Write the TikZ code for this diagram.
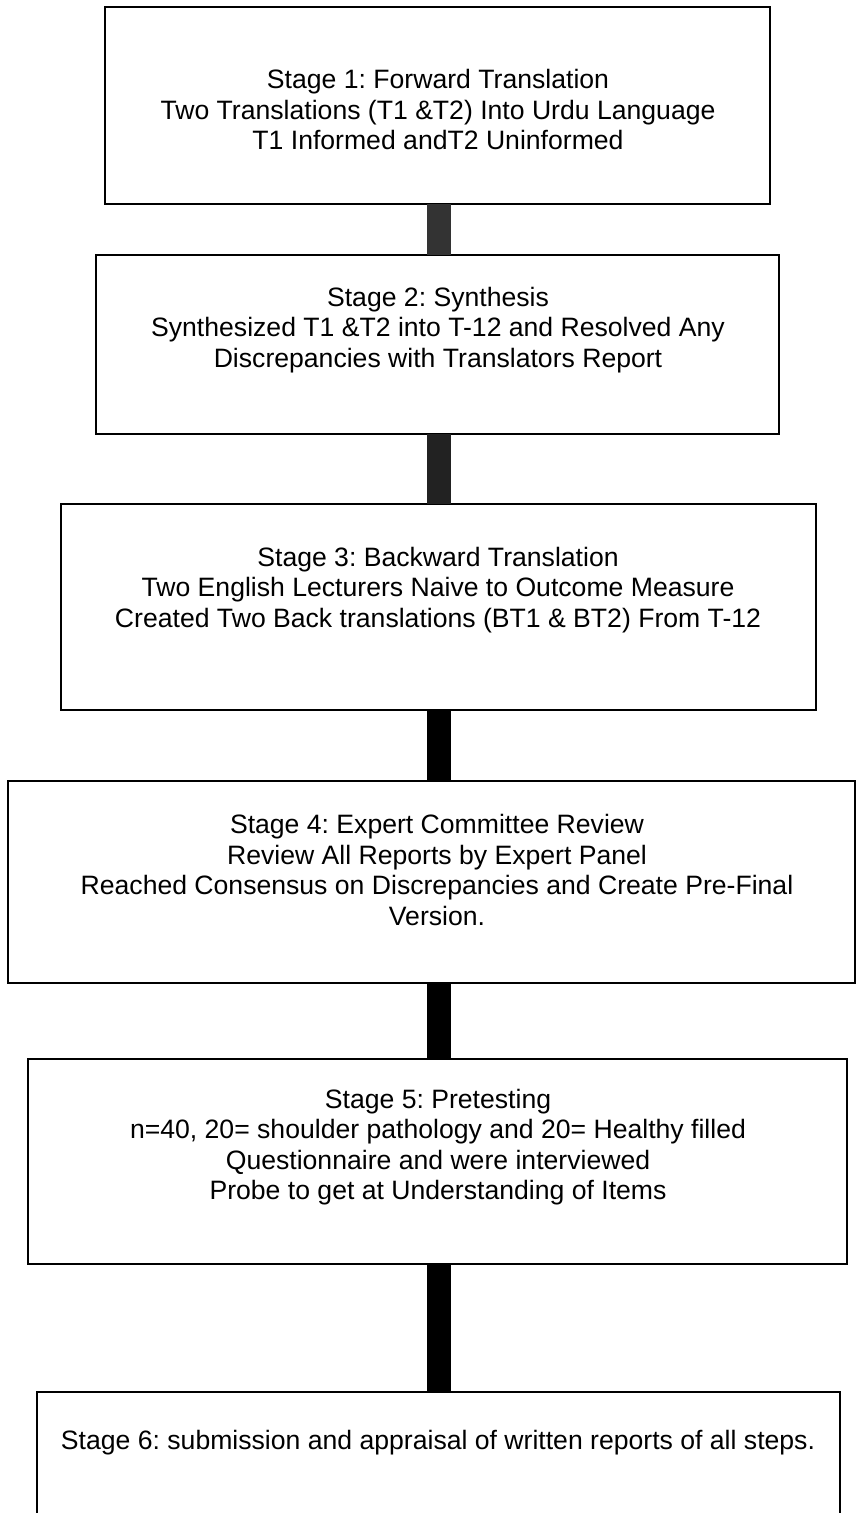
\documentclass[tikz,border=0pt]{standalone}
\usepackage{fontspec}
\setmainfont{Liberation Sans}
\frenchspacing
\definecolor{barA}{HTML}{333333}
\definecolor{barB}{HTML}{222222}
\begin{document}
\begin{tikzpicture}[x=1pt,y=-1pt,
  stagebox/.style={draw=black, line width=2pt, fill=white, inner sep=0pt, outer sep=0pt},
  lbl/.style={align=center, font=\fontsize{26.6}{30.5}\selectfont, inner sep=0pt},
  bar/.style={line width=24pt}]
\useasboundingbox (0,0) rectangle (856,1513);
\coordinate (bx) at (439,0);
% boxes
\node[stagebox, minimum width=665pt, minimum height=197pt] (b1) at (437.5,105.5) {};
\node[stagebox, minimum width=683pt, minimum height=179pt] (b2) at (437.5,344.5) {};
\node[stagebox, minimum width=755pt, minimum height=206pt] (b3) at (438.5,607) {};
\node[stagebox, minimum width=846.5pt, minimum height=202pt] (b4) at (431.25,882) {};
\node[stagebox, minimum width=819pt, minimum height=205pt] (b5) at (437.5,1161.5) {};
\node[stagebox, minimum width=803pt, minimum height=148pt] (b6) at (438.5,1466) {};
% connectors
\draw[bar, barA] (b1.south -| bx) -- (b2.north -| bx);
\draw[bar, barB] (b2.south -| bx) -- (b3.north -| bx);
\draw[bar, black] (b3.south -| bx) -- (b4.north -| bx);
\draw[bar, black] (b4.south -| bx) -- (b5.north -| bx);
\draw[bar, black] (b5.south -| bx) -- (b6.north -| bx);
% texts
\node[lbl] (t1) at (438,109.5) {Stage 1: Forward Translation\\Two Translations (T1 \&T2) Into Urdu Language\\T1 Informed andT2 Uninformed};
\node[lbl] (t2) at (438,330) {Stage 2: Synthesis\\Synthesized T1 \&T2 into T-12 and Resolved Any\\Discrepancies with Translators Report};
\node[lbl] (t3) at (438,590) {Stage 3: Backward Translation\\Two English Lecturers Naive to Outcome Measure\\Created Two Back translations (BT1 \& BT2) From T-12};
\node[lbl] (t4) at (437,870) {Stage 4: Expert Committee Review\\Review All Reports by Expert Panel\\Reached Consensus on Discrepancies and Create Pre-Final\\Version.};
\node[lbl] (t5) at (438,1147) {Stage 5: Pretesting\\n=40, 20= shoulder pathology and 20= Healthy filled\\Questionnaire and were interviewed\\Probe to get at Understanding of Items};
\node[lbl] (t6) at (438,1443) {Stage 6: submission and appraisal of written reports of all steps.};
\end{tikzpicture}
\end{document}
